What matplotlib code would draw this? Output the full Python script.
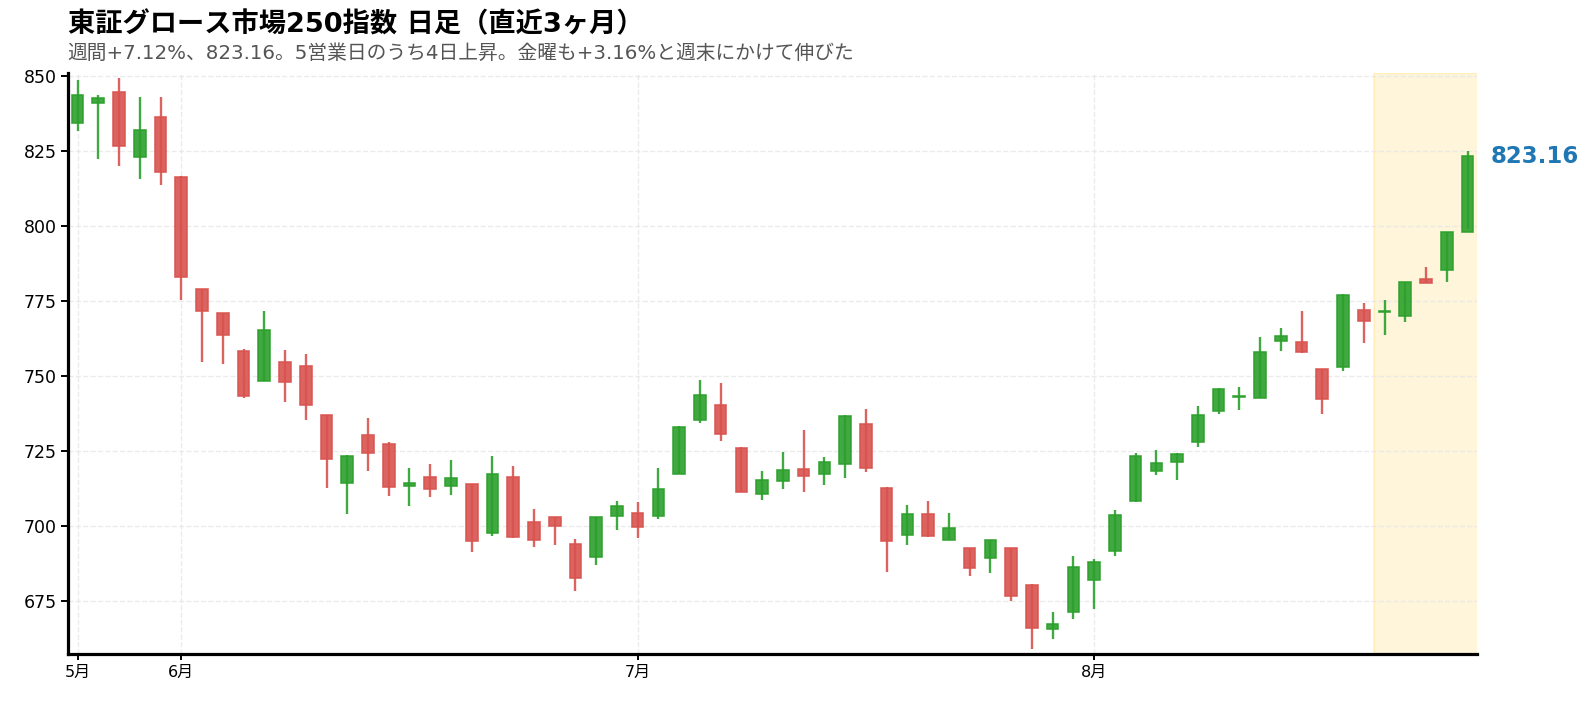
import numpy as np
import matplotlib
matplotlib.use("Agg")
import matplotlib.pyplot as plt

plt.rcParams['font.family'] = ['DejaVu Sans', 'Noto Sans CJK JP']

# 日足 OHLC (直近68営業日)
opens = [834.2, 841.1, 844.8, 823.0, 836.4, 816.3, 778.8, 770.8, 758.1, 748.4,
         754.7, 753.1, 736.8, 714.1, 730.4, 727.4, 713.1, 716.4, 713.2, 713.8,
         697.4, 716.3, 701.1, 702.8, 693.8, 689.6, 703.1, 704.1, 703.1, 717.4,
         735.2, 740.3, 726.0, 710.6, 714.9, 719.0, 717.2, 720.6, 734.0, 712.7,
         696.8, 704.0, 695.2, 692.4, 689.2, 692.4, 680.3, 665.4, 671.1, 681.8,
         691.4, 708.1, 718.4, 721.1, 727.8, 738.1, 742.9, 742.6, 761.6, 761.3,
         752.3, 752.8, 772.1, 771.2, 769.8, 782.3, 785.4, 797.95]
highs = [848.5, 843.5, 849.2, 842.9, 842.9, 816.5, 779.0, 771.0, 758.8, 771.6,
         758.5, 757.2, 736.9, 723.6, 735.9, 727.8, 719.2, 720.7, 721.9, 713.9,
         723.2, 719.9, 705.6, 703.0, 695.6, 703.0, 708.3, 707.9, 719.1, 733.1,
         748.6, 747.6, 726.1, 718.2, 724.6, 731.9, 722.8, 736.8, 738.9, 712.8,
         706.9, 708.2, 704.2, 692.5, 695.2, 692.5, 680.4, 671.2, 689.9, 688.8,
         705.1, 724.4, 725.1, 724.1, 739.8, 745.8, 746.4, 762.8, 765.8, 771.6,
         752.4, 777.2, 774.2, 775.2, 781.4, 786.2, 798.1, 824.9]
lows = [831.6, 822.3, 820.1, 815.5, 813.7, 775.3, 754.6, 753.9, 742.6, 748.2,
        741.2, 735.3, 712.7, 704.0, 718.2, 710.0, 706.6, 709.6, 710.2, 691.3,
        696.7, 696.0, 693.0, 693.6, 678.3, 686.9, 698.6, 696.0, 702.3, 717.2,
        734.3, 728.3, 711.1, 708.7, 712.3, 711.3, 713.7, 716.0, 718.0, 684.7,
        693.6, 696.3, 695.1, 683.3, 684.3, 675.0, 659.0, 662.3, 669.0, 672.3,
        690.0, 708.0, 716.9, 715.3, 726.3, 737.3, 738.7, 742.5, 758.3, 757.7,
        737.3, 751.7, 761.0, 763.6, 768.0, 780.8, 781.3, 799.0]
closes = [843.5, 842.7, 826.7, 832.0, 818.0, 783.1, 771.5, 763.7, 743.4, 765.4,
          747.8, 740.1, 722.1, 723.1, 724.1, 712.8, 714.4, 712.1, 715.8, 694.9,
          717.4, 696.2, 695.2, 699.9, 682.4, 702.8, 706.7, 699.4, 712.3, 733.0,
          743.7, 730.6, 711.2, 715.3, 718.7, 716.6, 721.3, 736.7, 719.2, 694.9,
          704.0, 696.4, 699.3, 685.9, 695.1, 676.6, 665.8, 667.1, 686.1, 687.8,
          703.7, 723.4, 721.0, 724.0, 737.0, 745.7, 743.1, 758.0, 763.3, 757.8,
          742.2, 777.1, 768.4, 771.6, 781.3, 781.1, 798.0, 823.16]

month_start_idx = [0, 5, 27, 49]
month_labels = ['5月', '6月', '7月', '8月']
week_days = 5

title = '東証グロース市場250指数 日足（直近3ヶ月）'
subtitle = '週間+7.12%、823.16。5営業日のうち4日上昇。金曜も+3.16%と週末にかけて伸びた'

up_color = '#2ca02c'
down_color = '#d9534f'

o = np.array(opens)
h = np.array(highs)
l = np.array(lows)
c = np.array(closes)
x = np.arange(len(c))
up = c >= o
cols = np.where(up, up_color, down_color)

fig = plt.figure(figsize=(15.94, 7.03), dpi=100)
ax = fig.add_axes([0.0428, 0.0693, 0.8837, 0.8273])

n = len(c)
ax.axvspan(n - week_days - 0.5, n - 0.5, color='#ffc107', alpha=0.15, lw=1.5, zorder=0)

ax.vlines(x, l, h, colors=cols, linewidth=1.7, alpha=0.9, zorder=2)
body_h = np.maximum(np.abs(c - o), 0.4)
ax.bar(x, body_h, bottom=np.minimum(o, c), width=0.56, color=cols,
       edgecolor=cols, linewidth=1.2, alpha=0.9, zorder=3)

pad = (h.max() - l.min()) * 0.01
ax.set_ylim(l.min() - pad, h.max() + pad)
ax.set_xlim(-0.45, n - 0.55)

ax.set_yticks([675, 700, 725, 750, 775, 800, 825, 850])
ax.set_xticks(month_start_idx)
ax.set_xticklabels(month_labels)
ax.tick_params(axis='y', labelsize=12.5, width=1.4, length=5, colors='black')
ax.tick_params(axis='x', labelsize=11.5, width=1.4, length=4, colors='black')
ax.grid(True, linestyle='--', color='#e6e6e6', linewidth=1.0, alpha=0.8, zorder=0)
ax.set_axisbelow(True)

for s in ['top', 'right']:
    ax.spines[s].set_visible(False)
for s in ['left', 'bottom']:
    ax.spines[s].set_linewidth(2.3)

ax.annotate(f'{c[-1]:.2f}', xy=(x[-1], c[-1]), xytext=(17, 0),
            textcoords='offset points', va='center', ha='left',
            fontsize=16.5, fontweight='bold', color='#1f77b4',
            annotation_clip=False)

fig.text(0.0425, 0.9645, title, fontsize=19.6, fontweight='bold', va='center', ha='left')
fig.text(0.0425, 0.9235, subtitle, fontsize=14.2, color='#555555', va='center', ha='left')

fig.savefig('out.png', dpi=100)
